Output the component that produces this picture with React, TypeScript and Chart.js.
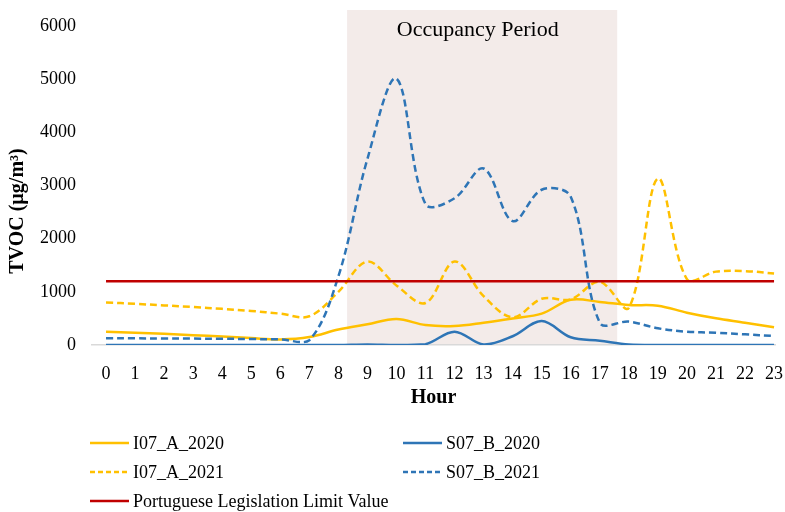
import React, { useEffect, useRef } from 'react';
import { Chart, registerables } from 'chart.js';

Chart.register(...registerables);

// ---------- data ----------
const hours = [0, 1, 2, 3, 4, 5, 6, 7, 8, 9, 10, 11, 12, 13, 14, 15, 16, 17, 18, 19, 20, 21, 22, 23];
const i07A2020 = [250, 230, 210, 185, 160, 130, 105, 150, 290, 390, 490, 375, 357, 420, 500, 590, 850, 810, 752, 740, 608, 502, 420, 332];
const s07B2020 = [0, 0, 0, 0, 0, 0, 0, 0, 0, 10, 0, 15, 250, 10, 165, 450, 145, 80, 10, 0, 0, 0, 0, 0];
const i07A2021 = [800, 775, 745, 715, 680, 640, 590, 540, 1000, 1570, 1120, 790, 1570, 920, 520, 870, 860, 1190, 700, 3130, 1240, 1380, 1390, 1345];
const s07B2021 = [125, 125, 122, 120, 117, 112, 105, 90, 1290, 3500, 5010, 2650, 2760, 3320, 2330, 2920, 2790, 420, 440, 314, 250, 231, 201, 169];
const limitValue = 1200;
const limitSeries = hours.map(() => limitValue);

const yTicks = [0, 1000, 2000, 3000, 4000, 5000, 6000];
const occupancyStart = 8.3;
const occupancyEnd = 17.6;
const occupancyLabel = 'Occupancy Period';
const occupancyLabelAt = 12.8;

const xTitle = 'Hour';
const yTitle = 'TVOC (µg/m³)';

const seriesNames = ['I07_A_2020', 'S07_B_2020', 'I07_A_2021', 'S07_B_2021', 'Portuguese Legislation Limit Value'];

const YELLOW = '#FFC000';
const BLUE = '#2E75B6';
const RED = '#C00000';
const SERIF = '"Liberation Serif", "Times New Roman", serif';

const toPoints = (arr: number[]) => hours.map((h, i) => ({ x: h, y: arr[i] }));

const legendItems = [
  { name: seriesNames[0], color: YELLOW, dash: [] as number[], col: 0, row: 0 },
  { name: seriesNames[1], color: BLUE, dash: [] as number[], col: 1, row: 0 },
  { name: seriesNames[2], color: YELLOW, dash: [5, 3], col: 0, row: 1 },
  { name: seriesNames[3], color: BLUE, dash: [5, 3], col: 1, row: 1 },
  { name: seriesNames[4], color: RED, dash: [] as number[], col: 0, row: 2 },
];

const bandPlugin = {
  id: 'occupancyBand',
  beforeDraw(chart: any) {
    const { ctx, chartArea, scales } = chart;
    const x = scales.x;
    const x0 = x.getPixelForValue(occupancyStart);
    const x1 = x.getPixelForValue(occupancyEnd);
    ctx.save();
    ctx.fillStyle = '#ffffff';
    ctx.fillRect(0, 0, chart.width, chart.height);
    ctx.fillStyle = '#f3ebe9';
    ctx.fillRect(x0, 10, x1 - x0, chartArea.bottom - 10);
    ctx.fillStyle = '#000';
    ctx.font = `22px ${SERIF}`;
    ctx.textAlign = 'center';
    ctx.textBaseline = 'middle';
    ctx.fillText(occupancyLabel, x.getPixelForValue(occupancyLabelAt), 30);
    ctx.restore();
  },
};

const extrasPlugin = {
  id: 'extras',
  afterDraw(chart: any) {
    const { ctx } = chart;
    ctx.save();
    // y-axis title
    ctx.translate(18, 211);
    ctx.rotate(-Math.PI / 2);
    ctx.fillStyle = '#000';
    ctx.font = `bold 20px ${SERIF}`;
    ctx.textAlign = 'center';
    ctx.textBaseline = 'middle';
    ctx.fillText(yTitle, 0, 0);
    ctx.restore();

    // legend
    const colLineX = [90, 403];
    const rowY = [443, 472, 501];
    ctx.save();
    ctx.font = `18px ${SERIF}`;
    ctx.textBaseline = 'middle';
    ctx.textAlign = 'left';
    legendItems.forEach((it) => {
      const lx = colLineX[it.col];
      const ly = rowY[it.row];
      ctx.strokeStyle = it.color;
      ctx.lineWidth = 2.5;
      ctx.setLineDash(it.dash);
      ctx.beginPath();
      ctx.moveTo(lx, ly);
      ctx.lineTo(lx + 39, ly);
      ctx.stroke();
      ctx.setLineDash([]);
      ctx.fillStyle = '#000';
      ctx.fillText(it.name, lx + 43, ly + 1);
    });
    ctx.restore();
  },
};

export default function App() {
  const canvasRef = useRef<HTMLCanvasElement | null>(null);

  useEffect(() => {
    if (!canvasRef.current) return;
    const common = { pointRadius: 0, pointHoverRadius: 0, borderWidth: 2.5, tension: 0.35, fill: false };
    const chart = new Chart(canvasRef.current, {
      type: 'line',
      data: {
        datasets: [
          { ...common, label: seriesNames[0], data: toPoints(i07A2020), borderColor: YELLOW, order: 4 },
          { ...common, label: seriesNames[1], data: toPoints(s07B2020), borderColor: BLUE, order: 3 },
          { ...common, label: seriesNames[2], data: toPoints(i07A2021), borderColor: YELLOW, borderDash: [7, 4], order: 2 },
          { ...common, label: seriesNames[3], data: toPoints(s07B2021), borderColor: BLUE, borderDash: [7, 4], order: 1 },
          { ...common, label: seriesNames[4], data: toPoints(limitSeries), borderColor: RED, tension: 0, order: 0 },
        ],
      },
      options: {
        animation: false,
        responsive: true,
        maintainAspectRatio: false,
        devicePixelRatio: 1,
        events: [],
        layout: { padding: { left: 0, top: 26, right: 9.5, bottom: 102 } },
        plugins: { legend: { display: false }, tooltip: { enabled: false } },
        scales: {
          x: {
            type: 'linear',
            min: -0.5,
            max: 23.05,
            afterBuildTicks: (s: any) => {
              s.ticks = hours.map((v) => ({ value: v }));
            },
            afterFit: (s: any) => {
              s.height = 65;
              s.paddingLeft = 0;
              s.paddingRight = 0;
              s.paddingTop = 0;
              s.paddingBottom = 0;
            },
            ticks: {
              autoSkip: false,
              maxRotation: 0,
              padding: 18,
              color: '#000',
              font: { family: SERIF, size: 18 },
              callback: (v: any) => String(v),
            },
            grid: { display: false, drawTicks: false },
            border: { display: true, color: '#d9d9d9', width: 1.5 },
            title: {
              display: true,
              text: xTitle,
              color: '#000',
              font: { family: SERIF, size: 20, weight: 'bold' },
              padding: { top: 1.4, bottom: 0 },
            },
          },
          y: {
            type: 'linear',
            min: 0,
            max: 6000,
            afterBuildTicks: (s: any) => {
              s.ticks = yTicks.map((v) => ({ value: v }));
            },
            afterFit: (s: any) => {
              s.width = 91.5;
              s.paddingLeft = 0;
              s.paddingRight = 0;
              s.paddingTop = 0;
              s.paddingBottom = 0;
            },
            ticks: {
              padding: 15.5,
              color: '#000',
              font: { family: SERIF, size: 18 },
              callback: (v: any) => String(v),
            },
            grid: { display: false, drawTicks: false },
            border: { display: false },
          },
        },
      },
      plugins: [bandPlugin, extrasPlugin],
    } as any);
    return () => chart.destroy();
  }, []);

  return (
    <div style={{ position: 'fixed', left: 0, top: 0, width: 785, height: 512, background: '#fff' }}>
      <canvas ref={canvasRef} />
    </div>
  );
}
